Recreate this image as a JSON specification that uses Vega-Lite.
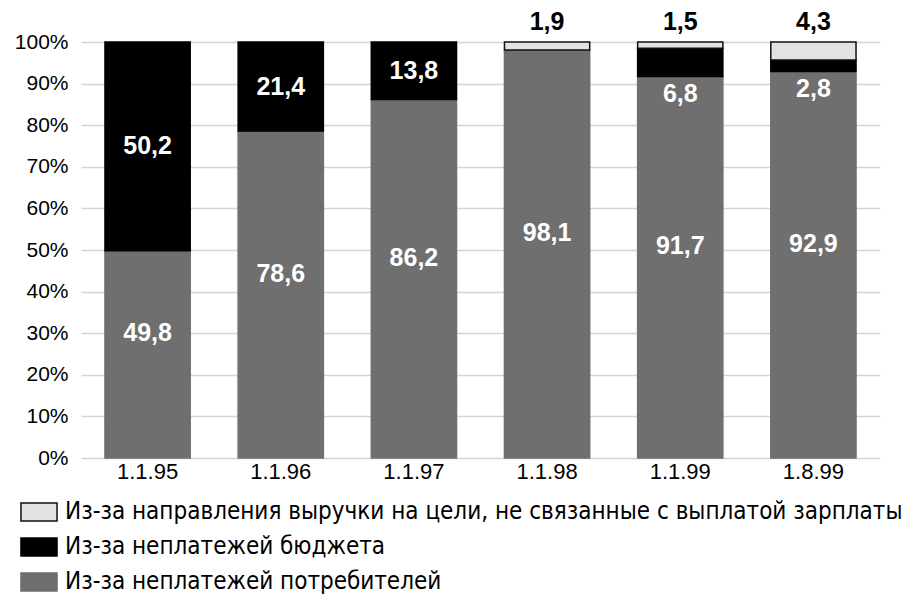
{
  "$schema": "https://vega.github.io/schema/vega-lite/v6.json",
  "width": 799,
  "height": 416,
  "autosize": {"type": "none"},
  "padding": {"left": 81, "top": 42, "right": 41, "bottom": 139},
  "background": "white",
  "data": {
    "values": [
      {"date": "1.1.95", "cat": "Из-за неплатежей потребителей", "value": 49.8, "ord": 1},
      {"date": "1.1.95", "cat": "Из-за неплатежей бюджета", "value": 50.2, "ord": 2},
      {"date": "1.1.96", "cat": "Из-за неплатежей потребителей", "value": 78.6, "ord": 1},
      {"date": "1.1.96", "cat": "Из-за неплатежей бюджета", "value": 21.4, "ord": 2},
      {"date": "1.1.97", "cat": "Из-за неплатежей потребителей", "value": 86.2, "ord": 1},
      {"date": "1.1.97", "cat": "Из-за неплатежей бюджета", "value": 13.8, "ord": 2},
      {"date": "1.1.98", "cat": "Из-за неплатежей потребителей", "value": 98.1, "ord": 1},
      {"date": "1.1.98", "cat": "Из-за направления выручки на цели, не связанные с выплатой зарплаты", "value": 1.9, "ord": 3},
      {"date": "1.1.99", "cat": "Из-за неплатежей потребителей", "value": 91.7, "ord": 1},
      {"date": "1.1.99", "cat": "Из-за неплатежей бюджета", "value": 6.8, "ord": 2},
      {"date": "1.1.99", "cat": "Из-за направления выручки на цели, не связанные с выплатой зарплаты", "value": 1.5, "ord": 3},
      {"date": "1.8.99", "cat": "Из-за неплатежей потребителей", "value": 92.9, "ord": 1},
      {"date": "1.8.99", "cat": "Из-за неплатежей бюджета", "value": 2.8, "ord": 2},
      {"date": "1.8.99", "cat": "Из-за направления выручки на цели, не связанные с выплатой зарплаты", "value": 4.3, "ord": 3}
    ]
  },
  "transform": [
    {"stack": "value", "groupby": ["date"], "sort": [{"field": "ord"}], "as": ["y0", "y1"]},
    {"calculate": "(datum.y0 + datum.y1) / 2", "as": "mid"}
  ],
  "encoding": {
    "x": {
      "field": "date",
      "type": "nominal",
      "sort": null,
      "scale": {"paddingInner": 0.36, "paddingOuter": 0.18},
      "axis": {
        "title": null,
        "labelAngle": 0,
        "labelFont": "Liberation Sans",
        "labelFontSize": 22,
        "labelColor": "#000",
        "ticks": false,
        "domain": false,
        "labelPadding": 3
      }
    }
  },
  "layer": [
    {
      "mark": {"type": "bar", "strokeWidth": 1.5},
      "encoding": {
        "y": {
          "field": "y0",
          "type": "quantitative",
          "scale": {"domain": [0, 100]},
          "axis": {
            "title": null,
            "values": [0, 10, 20, 30, 40, 50, 60, 70, 80, 90, 100],
            "labelExpr": "datum.value + '%'",
            "labelFont": "Liberation Sans",
            "labelFontSize": 21,
            "labelColor": "#000",
            "ticks": false,
            "domain": false,
            "labelPadding": 13,
            "grid": true,
            "gridColor": "#d4d4d4",
            "gridWidth": 1.5
          }
        },
        "y2": {"field": "y1"},
        "color": {
          "field": "cat",
          "type": "nominal",
          "scale": {
            "domain": ["Из-за направления выручки на цели, не связанные с выплатой зарплаты", "Из-за неплатежей бюджета", "Из-за неплатежей потребителей"],
            "range": ["#e2e2e2", "#000000", "#6f6f6f"]
          },
          "legend": {
            "title": null,
            "orient": "none",
            "legendX": -61,
            "legendY": 451,
            "direction": "vertical",
            "padding": 0,
            "symbolType": "M-1,-0.5H1V0.5H-1Z",
            "symbolSize": 1300,
            "symbolOpacity": 1,
            "symbolStrokeWidth": 1.5,
            "labelFont": "DejaVu Sans Condensed",
            "labelFontSize": 24,
            "labelColor": "#000",
            "labelOffset": 7,
            "labelLimit": 900,
            "rowPadding": 3
          }
        },
        "stroke": {
          "field": "cat",
          "type": "nominal",
          "scale": {
            "domain": ["Из-за направления выручки на цели, не связанные с выплатой зарплаты", "Из-за неплатежей бюджета", "Из-за неплатежей потребителей"],
            "range": ["#111111", "#000000", "#6f6f6f"]
          },
          "legend": {
            "title": null,
            "orient": "none",
            "legendX": -61,
            "legendY": 451,
            "direction": "vertical",
            "padding": 0,
            "symbolType": "M-1,-0.5H1V0.5H-1Z",
            "symbolSize": 1300,
            "symbolOpacity": 1,
            "symbolStrokeWidth": 1.5,
            "labelFont": "DejaVu Sans Condensed",
            "labelFontSize": 24,
            "labelColor": "#000",
            "labelOffset": 7,
            "labelLimit": 900,
            "rowPadding": 3
          }
        }
      }
    },
    {
      "transform": [{"filter": "datum.ord == 1"}],
      "mark": {"type": "text", "font": "Liberation Sans", "fontWeight": "bold", "fontSize": 25, "color": "white", "dy": -21},
      "encoding": {
        "y": {"field": "mid", "type": "quantitative"},
        "text": {"field": "value", "type": "quantitative", "format": ".1f"}
      }
    },
    {
      "transform": [{"filter": "datum.ord == 2 && datum.value >= 10"}],
      "mark": {"type": "text", "font": "Liberation Sans", "fontWeight": "bold", "fontSize": 25, "color": "white"},
      "encoding": {
        "y": {"field": "mid", "type": "quantitative"},
        "text": {"field": "value", "type": "quantitative", "format": ".1f"}
      }
    },
    {
      "transform": [{"filter": "datum.ord == 2 && datum.value < 10"}],
      "mark": {"type": "text", "font": "Liberation Sans", "fontWeight": "bold", "fontSize": 25, "color": "white", "baseline": "top", "dy": 5},
      "encoding": {
        "y": {"field": "y0", "type": "quantitative"},
        "text": {"field": "value", "type": "quantitative", "format": ".1f"}
      }
    },
    {
      "transform": [{"filter": "datum.ord == 3"}],
      "mark": {"type": "text", "font": "Liberation Sans", "fontWeight": "bold", "fontSize": 25, "color": "black", "baseline": "alphabetic", "dy": -12},
      "encoding": {
        "y": {"field": "y1", "type": "quantitative"},
        "text": {"field": "value", "type": "quantitative", "format": ".1f"}
      }
    }
  ],
  "config": {
    "view": {"stroke": null},
    "locale": {
      "number": {"decimal": ",", "thousands": " ", "grouping": [3], "currency": ["", ""]}
    }
  }
}
